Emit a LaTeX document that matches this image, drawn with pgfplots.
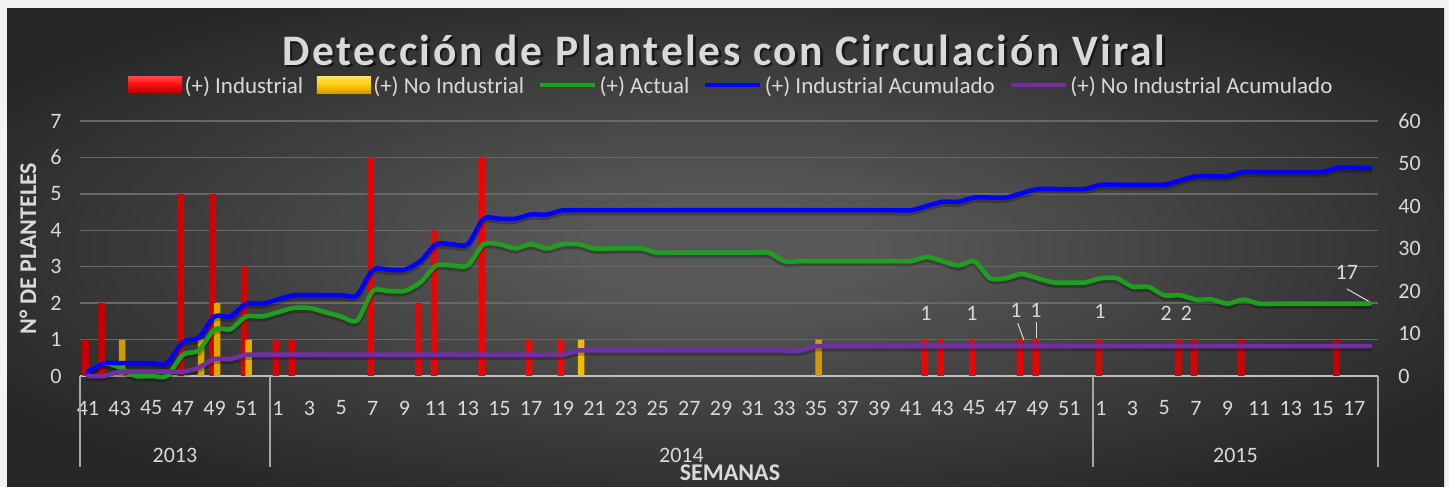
\documentclass[border=0pt]{standalone}
\usepackage{fontspec}
\setmainfont{Carlito}
\newfontfamily\titlefont[LetterSpace=6]{Carlito}
\usepackage{pgfplots}
\usepackage{pgfplotstable}
\pgfplotsset{compat=1.18}
\definecolor{lbl}{HTML}{D9D9D9}
\definecolor{framec}{HTML}{F2F2F2}
\definecolor{bginner}{HTML}{585858}
\definecolor{bgouter}{HTML}{272727}
\definecolor{gridc}{HTML}{686868}
\definecolor{axisc}{HTML}{BFBFBF}
\definecolor{sepc}{HTML}{A6A6A6}
\definecolor{rmid}{HTML}{FF0A0A}
\definecolor{rdark}{HTML}{C80000}
\definecolor{ymid}{HTML}{FFCC00}
\definecolor{ydark}{HTML}{D09A00}
\definecolor{gline}{HTML}{1EA01E}
\definecolor{bline}{HTML}{0000FF}
\definecolor{pline}{HTML}{7030A0}
\pgfdeclareradialshading{bgshade}{\pgfpoint{0bp}{0bp}}{color(0bp)=(bginner); color(5bp)=(bginner); color(30bp)=(bgouter); color(50bp)=(bgouter)}
\newcommand\tickfont{\fontsize{22}{26}\selectfont}
\newcommand\labfont{\bfseries\fontsize{24}{28}\selectfont}

\pgfplotstableread{
i g b p
0 1 1 0
1 3 3 0
2 2 3 1
3 0 3 1
4 0 3 1
5 0 3 1
6 5 8 1
7 6 9 2
8 11 14 4
9 11 14 4
10 14 17 5
11 14 17 5
12 15 18 5
13 16 19 5
14 16 19 5
15 15 19 5
16 14 19 5
17 13 19 5
18 20 25 5
19 20 25 5
20 20 25 5
21 22 27 5
22 26 31 5
23 26 31 5
24 26 31 5
25 31 37 5
26 31 37 5
27 30 37 5
28 31 38 5
29 30 38 5
30 31 39 5
31 31 39 6
32 30 39 6
33 30 39 6
34 30 39 6
35 30 39 6
36 29 39 6
37 29 39 6
38 29 39 6
39 29 39 6
40 29 39 6
41 29 39 6
42 29 39 6
43 29 39 6
44 27 39 6
45 27 39 6
46 27 39 7
47 27 39 7
48 27 39 7
49 27 39 7
50 27 39 7
51 27 39 7
52 27 39 7
53 28 40 7
54 27 41 7
55 26 41 7
56 27 42 7
57 23 42 7
58 23 42 7
59 24 43 7
60 23 44 7
61 22 44 7
62 22 44 7
63 22 44 7
64 23 45 7
65 23 45 7
66 21 45 7
67 21 45 7
68 19 45 7
69 19 46 7
70 18 47 7
71 18 47 7
72 17 47 7
73 18 48 7
74 17 48 7
75 17 48 7
76 17 48 7
77 17 48 7
78 17 48 7
79 17 49 7
80 17 49 7
81 17 49 7
}\lines

\begin{document}
\begin{tikzpicture}
\path[use as bounding box] (0pt,0pt) rectangle (1449pt,487pt);
\fill[framec] (0pt,0pt) rectangle (1449pt,487pt);
\shade[shading=bgshade] (7pt,0pt) rectangle (1444pt,478pt);
\node[anchor=base, text=black, opacity=0.55, text depth=0pt, inner ysep=0pt, font=\titlefont\bfseries\fontsize{43.5}{50}\selectfont] at (726.5pt,419pt) {Detección de Planteles con Circulación Viral};
\node[anchor=base, text=lbl, text depth=0pt, inner ysep=0pt, font=\titlefont\bfseries\fontsize{43.5}{50}\selectfont] at (724pt,421.5pt) {Detección de Planteles con Circulación Viral};

\begin{axis}[
  at={(80pt,111pt)}, anchor=south west, scale only axis, width=1298pt, height=255pt,
  xmin=-0.5, xmax=81.5, ymin=0, ymax=7, clip=false,
  axis x line*=bottom, axis y line*=left,
  x axis line style={draw=axisc, line width=2pt, -},
  y axis line style={draw=none},
  major tick length=0pt,
  xtick={0,2,...,80},
  xticklabels={41,43,45,47,49,51,1,3,5,7,9,11,13,15,17,19,21,23,25,27,29,31,33,35,37,39,41,43,45,47,49,51,1,3,5,7,9,11,13,15,17},
  ytick={0,...,7},
  ymajorgrids, grid style={draw=gridc, line width=1.5pt},
  /pgf/number format/assume math mode=true,
  tick label style={font=\tickfont, text=lbl},
  xticklabel style={anchor=center, yshift=-32pt},
  yticklabel style={anchor=east, xshift=-15pt},
  ylabel={N° DE PLANTELES}, xlabel={SEMANAS},
  every axis y label/.style={at={(axis description cs:-0.0401,0.5)}, rotate=90, anchor=center, font=\labfont, text=lbl},
  every axis x label/.style={at={(axis description cs:0.5008,-0.380)}, anchor=center, font=\labfont, text=lbl},
  legend columns=5,
  legend style={at={(0.502,1.142)}, anchor=center, draw=none, fill=none, font=\fontsize{23}{27}\selectfont, text=lbl,
    /tikz/every even column/.append style={column sep=11pt}, nodes={inner xsep=2.5pt, inner ysep=0pt, text depth=0pt}},
]
\addplot[ybar, bar width=6.5pt, bar shift=-2pt, draw=none, left color=rdark, right color=rdark, middle color=rmid,
  legend image code/.code={\shade[top color=rmid!75!white, bottom color=rdark!85!black, middle color=rmid] (0pt,-8.5pt) rectangle (54pt,8.5pt);}]
  coordinates {(0,1)(1,2)(6,5)(8,5)(10,3)(12,1)(13,1)(18,6)(21,2)(22,4)(25,6)(28,1)(30,1)(53,1)(54,1)(56,1)(59,1)(60,1)(64,1)(69,1)(70,1)(73,1)(79,1)};
\addplot[ybar, bar width=6.5pt, bar shift=2.5pt, draw=none, left color=ydark, right color=ydark, middle color=ymid,
  legend image code/.code={\shade[top color=ymid!60!white, bottom color=ydark, middle color=ymid] (0pt,-8.5pt) rectangle (54pt,8.5pt);}]
  coordinates {(2,1)(7,1)(8,2)(10,1)(31,1)(46,1)};
\addlegendimage{gline, line width=4.5pt, legend image code/.code={\draw (0pt,0pt) -- (55pt,0pt);}}
\addlegendimage{bline, line width=4.5pt, legend image code/.code={\draw (0pt,0pt) -- (55pt,0pt);}}
\addlegendimage{pline, line width=4.5pt, legend image code/.code={\draw (0pt,0pt) -- (55pt,0pt);}}
\legend{(+) Industrial, (+) No Industrial, (+) Actual, (+) Industrial Acumulado, (+) No Industrial Acumulado}

\draw[sepc, line width=1.5pt] (axis cs:-0.5,0) -- ++(0pt,-91pt);
\draw[sepc, line width=1.5pt] (axis cs:11.5,0) -- ++(0pt,-91pt);
\draw[sepc, line width=1.5pt] (axis cs:63.5,0) -- ++(0pt,-91pt);
\draw[sepc, line width=1.5pt] (axis cs:81.5,0) -- ++(0pt,-91pt);
\node[text=lbl, font=\tickfont, yshift=-79pt] at (axis cs:5.5,0) {2013};
\node[text=lbl, font=\tickfont, yshift=-79pt] at (axis cs:37.5,0) {2014};
\node[text=lbl, font=\tickfont, yshift=-79pt] at (axis cs:72.5,0) {2015};

\node[text=lbl, font=\tickfont] at (axis cs:52.94,1.73) {1};
\node[text=lbl, font=\tickfont] at (axis cs:55.85,1.73) {1};
\node[text=lbl, font=\tickfont] at (axis cs:58.63,1.81) {1};
\node[text=lbl, font=\tickfont] at (axis cs:59.9,1.81) {1};
\node[text=lbl, font=\tickfont] at (axis cs:63.94,1.76) {1};
\node[text=lbl, font=\tickfont] at (axis cs:68.12,1.73) {2};
\node[text=lbl, font=\tickfont] at (axis cs:69.4,1.73) {2};
\node[text=lbl, font=\tickfont] at (axis cs:79.54,2.85) {17};
\draw[lbl, line width=1pt] (axis cs:58.75,1.45) -- (axis cs:59.13,0.99);
\draw[lbl, line width=1pt] (axis cs:59.96,1.48) -- (axis cs:59.96,1.04);
\draw[lbl, line width=1pt] (axis cs:79.54,2.39) -- (axis cs:81,2.03);
\end{axis}

\begin{axis}[
  at={(80pt,111pt)}, anchor=south west, scale only axis, width=1298pt, height=255pt,
  xmin=-0.5, xmax=81.5, ymin=0, ymax=60, clip=false,
  hide x axis, axis y line*=right, y axis line style={draw=none}, major tick length=0pt,
  ytick={0,10,...,60}, /pgf/number format/assume math mode=true,
  tick label style={font=\tickfont, text=lbl}, yticklabel style={anchor=west, xshift=17pt},
  every axis plot/.append style={smooth, tension=0.45, line width=4.5pt, line cap=round, line join=round},
]
\addplot[black, opacity=0.25, transform canvas={yshift=-3pt}] table[x=i, y=g] {\lines};
\addplot[black, opacity=0.25, transform canvas={yshift=-3pt}] table[x=i, y=b] {\lines};
\addplot[black, opacity=0.25, transform canvas={yshift=-3pt}] table[x=i, y=p] {\lines};
\addplot[gline] table[x=i, y=g] {\lines};
\addplot[bline] table[x=i, y=b] {\lines};
\addplot[pline] table[x=i, y=p] {\lines};
\end{axis}
\end{tikzpicture}
\end{document}
